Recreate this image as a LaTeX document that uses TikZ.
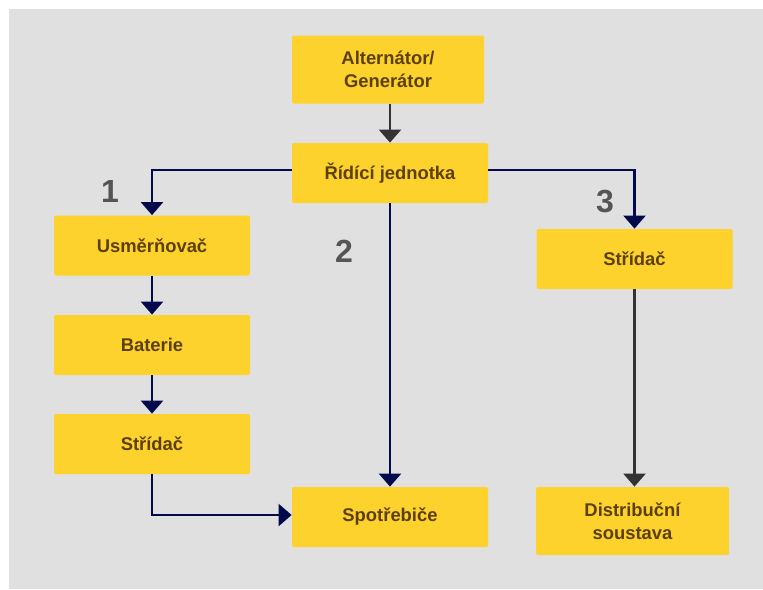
\documentclass[tikz,border=0pt]{standalone}
\usepackage{fontspec}
\setmainfont{Liberation Sans}
\usepackage{tikz}
\usetikzlibrary{arrows.meta}
\usetikzlibrary{positioning}
\definecolor{mgray}{RGB}{224, 224, 224}
\definecolor{myellow}{RGB}{253, 210, 44}
\definecolor{mbrown}{RGB}{92, 64, 12}
\definecolor{mnavy}{RGB}{2, 10, 76}
\definecolor{mdark}{RGB}{51, 51, 51}
\definecolor{mdigit}{RGB}{85, 85, 85}
\tikzset{block/.style = {fill=myellow, rounded corners=1pt, minimum width=98pt,
                         minimum height=30pt, align=center, inner sep=0,
                         text=mbrown, font=\fontsize{9.2}{11.5}\selectfont\bfseries}}
\tikzset{tall/.style = {block, minimum height=34pt}}
\tikzset{navy/.style = {draw=mnavy, line width=1.2pt,
                        -{Triangle[width=11pt, length=6.5pt]}}}
\tikzset{dark/.style = {draw=mdark, line width=1.2pt,
                        -{Triangle[width=11pt, length=6.5pt]}}}
\tikzset{num/.style = {text=mdigit, font=\fontsize{16}{18}\selectfont\bfseries}}

\begin{document}
\begin{tikzpicture}[x=0.5pt, y=-0.5pt]
          \useasboundingbox (0, 0) rectangle (763, 589);
          \fill [white] (0, 0) rectangle (763, 589);
          \fill [mgray] (9, 9) rectangle (763, 589);

          \node [tall, minimum width=96pt] (alt) at (388, 69.5) {Alternátor/\\Generátor};
          \node [block] (ctrl) at (390, 173) {Řídící jednotka};
          \node [block] (rect) at (152, 245.5) {Usměrňovač};
          \node [block] (bat) at (152, 345) {Baterie};
          \node [block] (invl) at (152, 444) {Střídač};
          \node [block] (load) at (390, 517) {Spotřebiče};
          \node [block] (invr) at (634.5, 259) {Střídač};
          \node [tall, minimum width=96.5pt] (grid) at (632.5, 521) {Distribuční\\soustava};

          \node [num] (one) at (110, 191) {1};
          \node [num] (two) at (344, 251) {2};
          \node [num] (three) at (605, 202) {3};

          \draw [dark] (alt.south -| ctrl) -- (ctrl.north);
          \draw [navy] ([yshift=1.5pt] ctrl.west) -| (rect.north);
          \draw [navy] ([yshift=1.5pt] ctrl.east) -| (invr.north);
          \draw [navy] (ctrl.south) -- (load.north);
          \draw [navy] (rect.south) -- (bat.north);
          \draw [navy] (bat.south) -- (invl.north);
          \draw [navy] (invl.south) |- ([yshift=1pt] load.west);
          \draw [dark] (invr.south) -- (invr.south |- grid.north);
        \end{tikzpicture}
\end{document}
